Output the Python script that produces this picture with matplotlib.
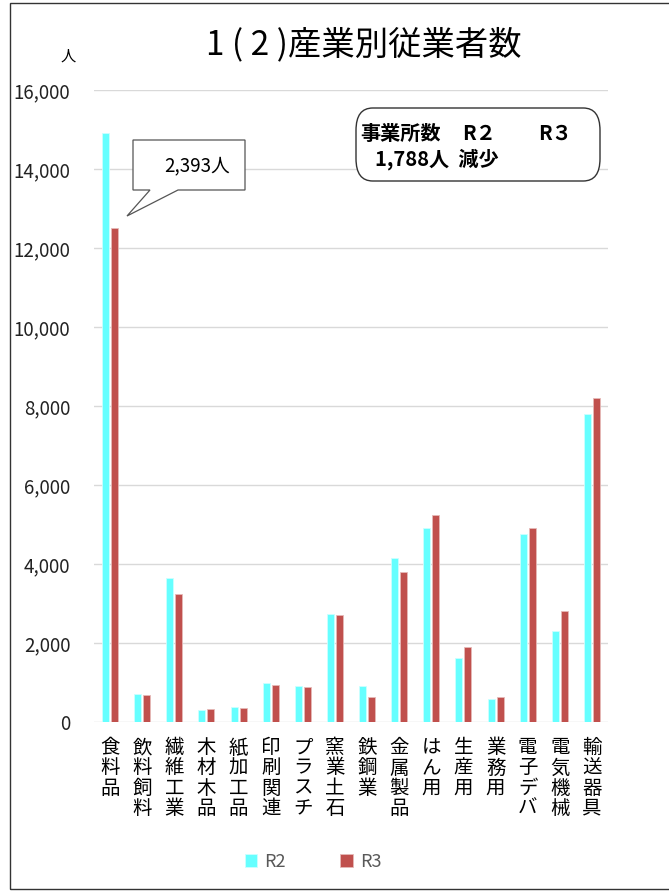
# 産業別従業者数 chart

import matplotlib
matplotlib.use('Agg')
import matplotlib.pyplot as plt
import numpy as np
from matplotlib.patches import FancyBboxPatch, Polygon, Rectangle

plt.rcParams['font.family'] = ['Noto Sans CJK JP', 'DejaVu Sans']

categories = ['食料品', '飲料飼料', '繊維工業', '木材木品', '紙加工品', '印刷関連', 'プラスチ', '窯業土石',
              '鉄鋼業', '金属製品', 'はん用', '生産用', '業務用', '電子デバ', '電気機械', '輸送器具']
r2 = [14906, 720, 3650, 295, 390, 1000, 905, 2740, 915, 4160, 4920, 1620, 570, 4770, 2310, 7800]
r3 = [12513, 690, 3240, 330, 360, 925, 885, 2700, 640, 3800, 5230, 1900, 640, 4900, 2800, 8200]
series_names = ['R2', 'R3']

W, H = 669, 893


def fx(px):
    return px / W


def fy(py):
    return 1 - py / H


fig = plt.figure(figsize=(W / 100, H / 100), dpi=100)
ax = fig.add_axes((fx(94), fy(722), fx(608) - fx(94), fy(90) - fy(722)))

x = np.arange(len(categories))
width = 0.22
off = 0.14
ax.bar(x - off, r2, width, color='#66FFFF', edgecolor='#CCFFFF', linewidth=0.6, label=series_names[0], zorder=3)
ax.bar(x + off, r3, width, color='#C0504D', edgecolor='#E6B9B8', linewidth=0.6, label=series_names[1], zorder=3)

ax.set_xlim(-0.5, len(categories) - 0.5)
ax.set_ylim(0, 16000)
ax.set_yticks(np.arange(0, 16001, 2000))
ax.set_yticklabels(['{:,}'.format(v) for v in range(0, 16001, 2000)], fontsize=13.5, color='#222222')
ax.yaxis.grid(True, color='#d9d9d9', linewidth=1, zorder=0)
ax.set_axisbelow(True)
for s in ax.spines.values():
    s.set_visible(False)
ax.tick_params(axis='y', length=0, pad=17)
ax.tick_params(axis='x', length=0, pad=11)
ax.set_xticks(x)
ax.set_xticklabels(['\n'.join(c) for c in categories], fontsize=14, linespacing=0.95, va='top')

# title and unit
fig.text(fx(364), fy(45), '1 ( 2 )産業別従業者数', fontsize=24, ha='center', va='center')
fig.text(fx(68), fy(56), '人', fontsize=11, ha='center', va='center')

# callout for 食料品
callout = Polygon([(fx(133), fy(140)), (fx(245), fy(140)), (fx(245), fy(190)), (fx(178), fy(190)),
                   (fx(127), fy(216)), (fx(150), fy(190)), (fx(133), fy(190))],
                  closed=True, facecolor='white', edgecolor='#555555', linewidth=0.9,
                  transform=fig.transFigure, zorder=5)
fig.patches.append(callout)
fig.text(fx(197), fy(166), '2,393人', fontsize=13.5, ha='center', va='center', zorder=6)

# 事業所数 box
box = FancyBboxPatch((fx(356), fy(181)), fx(600) - fx(356), fy(108) - fy(181),
                     boxstyle='round,pad=0,rounding_size=0.025', facecolor='white', edgecolor='#333333',
                     linewidth=1.0, transform=fig.transFigure, zorder=5)
fig.patches.append(box)
fig.text(fx(360), fy(133), '事業所数', fontsize=14.5, fontweight='bold', va='center', zorder=6)
fig.text(fx(462), fy(133), 'R２', fontsize=14.5, fontweight='bold', va='center', zorder=6)
fig.text(fx(538), fy(133), 'R３', fontsize=14.5, fontweight='bold', va='center', zorder=6)
fig.text(fx(375), fy(159), '1,788人  減少', fontsize=14.5, fontweight='bold', va='center', zorder=6)

# legend
fig.legend(loc='center', bbox_to_anchor=(fx(313), fy(862)), ncol=2, frameon=False, fontsize=13,
           handlelength=0.7, handleheight=0.7, columnspacing=3.0, handletextpad=0.4,
           labelcolor='#595959')

# outer border
fig.patches.append(Rectangle((fx(10), fy(889)), 1.2, fy(3) - fy(889), fill=False, edgecolor='#333333',
                             linewidth=1.0, transform=fig.transFigure))

plt.savefig('out.png', dpi=100)
